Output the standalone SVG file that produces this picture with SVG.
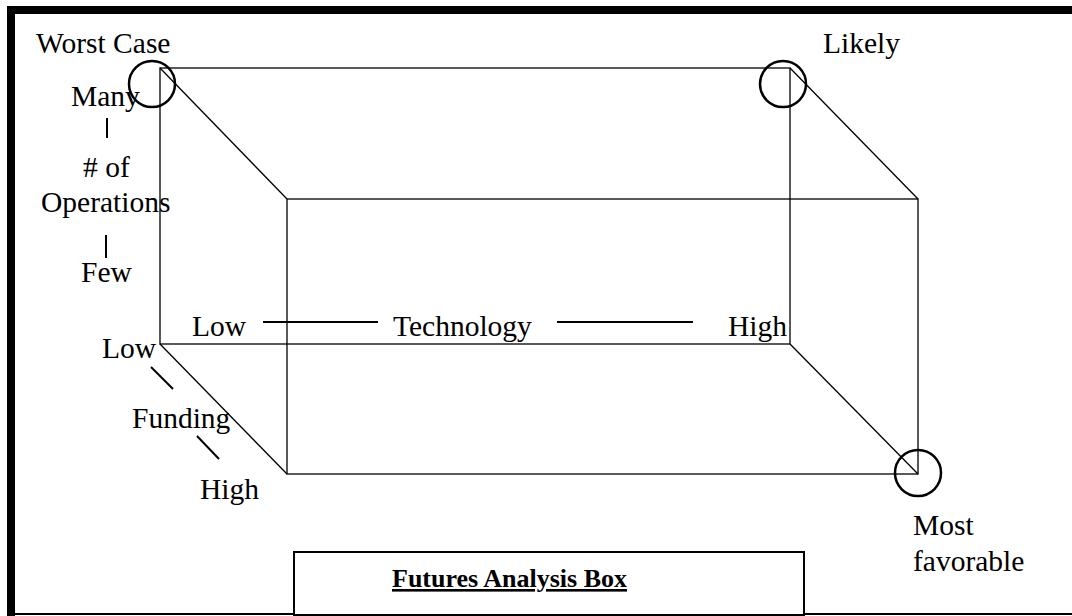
<svg xmlns="http://www.w3.org/2000/svg" width="1072" height="616" viewBox="0 0 1072 616">
  <style>
    text { font-family: 'Liberation Serif', 'Times New Roman', Times, 'DejaVu Serif', serif; font-size: 29.5px; fill: #000; }
    .edge { fill: none; stroke: #000; stroke-width: 1.3; }
    .axis { stroke: #000; stroke-width: 2; }
    .ring { fill: none; stroke: #000; stroke-width: 2.5; }
    .frame { fill: none; stroke: #000; }
    .title { font-weight: bold; font-size: 26px; text-decoration: underline; }
  </style>

  <!-- page frame: heavy top and left rules, thin bottom rule -->
  <g id="frame">
    <rect x="0" y="0" width="1072" height="616" fill="#fff"/>
    <line class="frame" x1="7" y1="10" x2="1072" y2="10" stroke-width="8"/>
    <line class="frame" x1="11" y1="6" x2="11" y2="616" stroke-width="8"/>
    <line class="frame" x1="7" y1="614" x2="1072" y2="614" stroke-width="2"/>
  </g>

  <!-- rear face of the box -->
  <g id="back-face">
    <rect class="edge" x="160" y="68" width="630" height="276"/>
  </g>

  <!-- front face of the box -->
  <g id="front-face">
    <rect class="edge" x="287" y="199" width="631" height="275"/>
  </g>

  <!-- depth edges and axis indicator strokes -->
  <g id="connectors">
    <line class="edge" x1="160" y1="68" x2="287" y2="199"/>
    <line class="edge" x1="790" y1="68" x2="918" y2="199"/>
    <line class="edge" x1="160" y1="344" x2="287" y2="474"/>
    <line class="edge" x1="790" y1="344" x2="918" y2="474"/>
    <!-- operations axis -->
    <line class="axis" x1="107" y1="118" x2="107" y2="138"/>
    <line class="axis" x1="106" y1="235" x2="106" y2="258"/>
    <!-- technology axis -->
    <line class="axis" x1="263" y1="322" x2="378" y2="322"/>
    <line class="axis" x1="557" y1="322" x2="693" y2="322"/>
    <!-- funding axis -->
    <line class="axis" x1="151" y1="367" x2="173" y2="389"/>
    <line class="axis" x1="197" y1="436" x2="219" y2="459"/>
  </g>

  <g font-family="'Liberation Serif', 'Times New Roman', Times, 'DejaVu Serif', serif">
  <!-- scenario corners -->
  <g id="worst-case">
    <circle class="ring" cx="152" cy="84" r="23"/>
    <text x="36" y="53">Worst Case</text>
  </g>
  <g id="likely">
    <circle class="ring" cx="783" cy="84" r="23"/>
    <text x="823" y="53">Likely</text>
  </g>
  <g id="most-favorable">
    <circle class="ring" cx="918" cy="473" r="23"/>
    <text x="913" y="535">Most</text>
    <text x="913" y="571">favorable</text>
  </g>

  <!-- axis labels -->
  <g id="operations-axis">
    <text x="71" y="106">Many</text>
    <text x="83" y="177"># of</text>
    <text x="41" y="212">Operations</text>
    <text x="81" y="282">Few</text>
  </g>
  <g id="technology-axis">
    <text x="192" y="336">Low</text>
    <text x="393" y="336">Technology</text>
    <text x="728" y="336">High</text>
  </g>
  <g id="funding-axis">
    <text x="102" y="358">Low</text>
    <text x="132" y="428">Funding</text>
    <text x="200" y="499">High</text>
  </g>

  <!-- caption box -->
  <g id="caption">
    <rect x="294" y="552" width="510" height="63" fill="#fff" stroke="#000" stroke-width="2"/>
    <text class="title" x="392" y="587">Futures Analysis Box</text>
  </g>
  </g>
</svg>
